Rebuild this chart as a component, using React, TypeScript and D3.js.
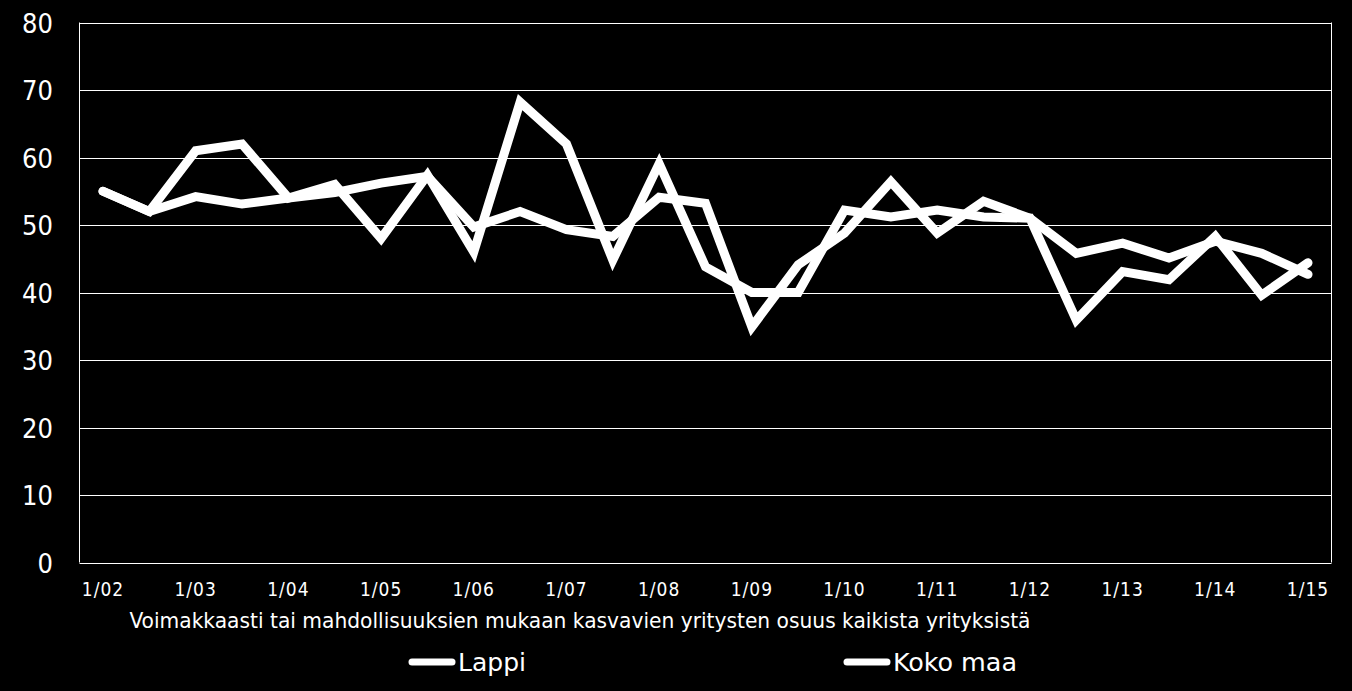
import React from "react";
import * as d3 from "d3";

const periods: string[] = [
  "1/02", "7/02", "1/03", "7/03", "1/04", "7/04", "1/05", "7/05", "1/06", "7/06",
  "1/07", "7/07", "1/08", "7/08", "1/09", "7/09", "1/10", "7/10", "1/11", "7/11",
  "1/12", "7/12", "1/13", "7/13", "1/14", "7/14", "1/15",
];

const lappi: number[] = [
  55, 52, 61, 62, 54, 56, 48, 57.4, 46, 68.2, 62, 44.8, 59.1, 43.8, 40, 40,
  52.2, 51.2, 52.2, 51.2, 51, 35.9, 43.1, 41.9, 48.3, 39.6, 44.4,
];

const kokoMaa: number[] = [
  55, 52, 54.2, 53.1, 54, 54.8, 56.2, 57.2, 49.7, 52, 49.3, 48.3, 54.1, 53.2,
  34.9, 44.1, 48.8, 56.4, 48.8, 53.5, 51, 45.8, 47.3, 45.1, 47.6, 45.8, 42.7,
];

const yTicks: number[] = [0, 10, 20, 30, 40, 50, 60, 70, 80];
const xTickLabels: string[] = [
  "1/02", "1/03", "1/04", "1/05", "1/06", "1/07", "1/08", "1/09", "1/10",
  "1/11", "1/12", "1/13", "1/14", "1/15",
];

const seriesNames: string[] = ["Lappi", "Koko maa"];
const axisTitle =
  "Voimakkaasti tai mahdollisuuksien mukaan kasvavien yritysten osuus kaikista yrityksistä";

const W = 1352;
const H = 691;
const FONT = "'DejaVu Sans Condensed', 'DejaVu Sans', sans-serif";

export default function App() {
  const plotLeft = 79.5;
  const plotRight = 1331.5;
  const x = d3.scaleLinear().domain([0, periods.length - 1]).range([103, 1308]);
  const y = d3.scaleLinear().domain([0, 80]).range([562.5, 22.5]);

  const line = d3
    .line<number>()
    .x((_, i) => x(i))
    .y((d) => y(d));

  const series = [lappi, kokoMaa];
  const legendX = [409, 844];
  const legendTextLen = [68, 124];

  return (
    <div style={{ position: "absolute", left: 0, top: 0, width: W, height: H, background: "#000" }}>
      <svg width={W} height={H} style={{ display: "block", background: "#000" }}>
        <rect x={0} y={0} width={W} height={H} fill="#000" />
        {yTicks.map((t) => (
          <g key={t}>
            <line
              x1={plotLeft}
              x2={plotRight}
              y1={Math.round(y(t)) + 0.5}
              y2={Math.round(y(t)) + 0.5}
              stroke="#fff"
              strokeWidth={1}
            />
            <text
              x={53}
              y={y(t) + 10}
              textAnchor="end"
              fill="#fff"
              fontFamily={FONT}
              fontSize={27}
            >
              {t}
            </text>
          </g>
        ))}
        <line x1={plotLeft} x2={plotLeft} y1={y(80)} y2={y(0)} stroke="#fff" strokeWidth={1} />
        <line x1={plotRight} x2={plotRight} y1={y(80)} y2={y(0)} stroke="#fff" strokeWidth={1} />
        {xTickLabels.map((lab, k) => (
          <text
            key={lab}
            x={x(k * 2)}
            y={596}
            textAnchor="middle"
            fill="#fff"
            fontFamily={FONT}
            fontSize={19}
            letterSpacing={1}
          >
            {lab}
          </text>
        ))}
        <text
          x={580}
          y={628}
          textAnchor="middle"
          fill="#fff"
          fontFamily={FONT}
          fontSize={21}
          textLength={901}
          lengthAdjust="spacingAndGlyphs"
        >
          {axisTitle}
        </text>
        {series.map((s, i) => (
          <path
            key={seriesNames[i]}
            d={line(s) || ""}
            fill="none"
            stroke="#fff"
            strokeWidth={9}
            strokeLinejoin="miter"
            strokeLinecap="round"
          />
        ))}
        {seriesNames.map((name, i) => (
          <g key={name}>
            <line
              x1={legendX[i] + 3}
              x2={legendX[i] + 43}
              y1={662}
              y2={662}
              stroke="#fff"
              strokeWidth={7}
              strokeLinecap="round"
            />
            <text
              x={legendX[i] + 49}
              y={671}
              fill="#fff"
              fontFamily={FONT}
              fontSize={25}
              textLength={legendTextLen[i]}
              lengthAdjust="spacingAndGlyphs"
            >
              {name}
            </text>
          </g>
        ))}
      </svg>
    </div>
  );
}
